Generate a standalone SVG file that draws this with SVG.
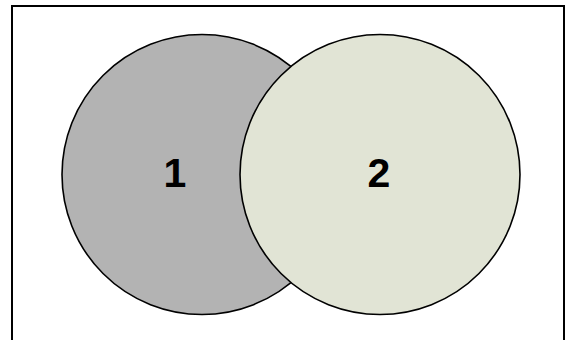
<svg xmlns="http://www.w3.org/2000/svg" width="566" height="340" viewBox="0 0 566 340">
<style>
.c{stroke:#000;stroke-width:1.6}
.t{font-family:"Liberation Sans",Arial,sans-serif;font-weight:bold;font-size:41px;fill:#000;text-anchor:middle}
</style>
<rect x="0" y="0" width="566" height="340" fill="#fff"/>
<rect x="12" y="6" width="552" height="340" fill="#fff" stroke="#000" stroke-width="2"/>
<g id="set1">
<circle class="c" cx="202" cy="174.5" r="140" fill="#b3b3b3"/>
</g>
<g id="set2">
<circle class="c" cx="380" cy="174.5" r="140" fill="#e1e4d5"/>
</g>
<text class="t" x="175" y="187">1</text>
<text class="t" x="379" y="187">2</text>
</svg>
